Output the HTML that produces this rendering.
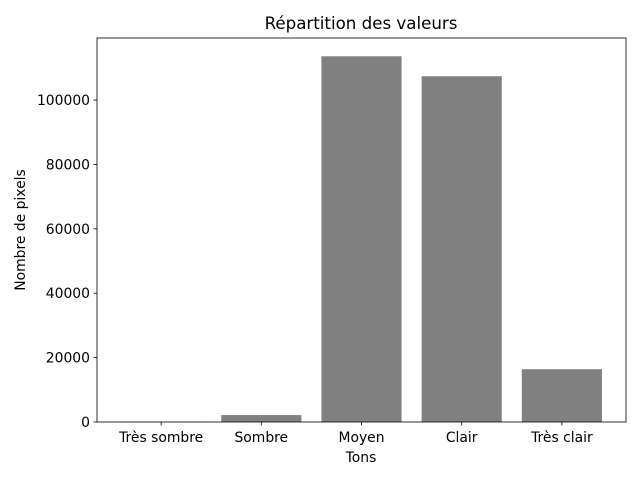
<!DOCTYPE html>
<html><head><meta charset="utf-8"><style>
body{margin:0;background:#fff;}
text{font-family:"DejaVu Sans","Liberation Sans",sans-serif;fill:#000;}
</style></head><body>
<svg id="chart" width="640" height="480" xmlns="http://www.w3.org/2000/svg">
<rect width="640" height="480" fill="#fff"/>
<text x="361" y="29" font-size="16.67" text-anchor="middle">Répartition des valeurs</text>
<g id="bars"></g>
<g id="axes"></g>
<text x="361" y="462" font-size="13.9" text-anchor="middle">Tons</text>
<text transform="translate(25,230) rotate(-90)" font-size="13.9" text-anchor="middle">Nombre de pixels</text>
</svg>
<script>
const categories=["Très sombre","Sombre","Moyen","Clair","Très clair"];
const values=[100,2150,113600,107400,16400];
const yTicks=[0,20000,40000,60000,80000,100000];
const L=97,R=626,T=38,B=422;
const ns="http://www.w3.org/2000/svg";
const n=categories.length;
const xmin=-0.4-0.05*(n-1+0.8),xmax=n-1+0.4+0.05*(n-1+0.8);
const ymax=Math.max(...values)*1.05;
function xs(v){return L+(v-xmin)/(xmax-xmin)*(R-L);}
function ys(v){return B-v/ymax*(B-T);}
function mk(tag,attrs,parent){const e=document.createElementNS(ns,tag);for(const k in attrs)e.setAttribute(k,attrs[k]);parent.appendChild(e);return e;}
const bars=document.getElementById('bars'),axes=document.getElementById('axes');
values.forEach((v,i)=>{
 const r=mk('rect',{x:xs(i-0.4),y:ys(v),width:xs(i+0.4)-xs(i-0.4),height:ys(0)-ys(v),fill:'#808080'},bars);
 
 
 mk('line',{x1:xs(i),x2:xs(i),y1:B,y2:B+3.5,stroke:'#000','stroke-width':0.8},axes);
 const t=mk('text',{x:xs(i),y:B+20,'font-size':13.9,'text-anchor':'middle'},axes);
 t.textContent=categories[i];
 
 
});
yTicks.forEach(v=>{
 mk('line',{x1:L-3.5,x2:L,y1:ys(v),y2:ys(v),stroke:'#000','stroke-width':0.8},axes);
 const t=mk('text',{x:L-7,y:ys(v)+5,'font-size':13.9,'text-anchor':'end'},axes);
 t.textContent=v;
 
 
});
const f=mk('rect',{x:L,y:T,width:R-L,height:B-T,fill:'none',stroke:'#000','stroke-width':0.8},axes);


</script>
</body></html>
